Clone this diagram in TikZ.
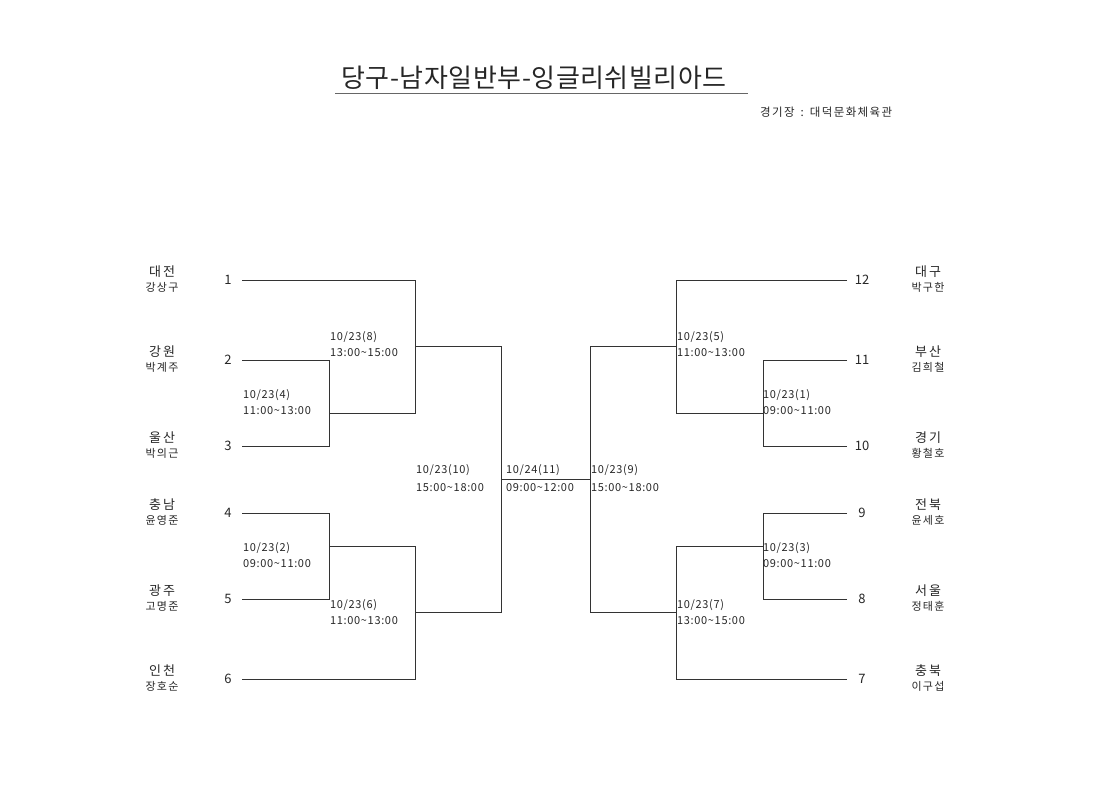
\documentclass[tikz,border=0pt]{standalone}
\usepackage{fontspec}
\setmainfont{Noto Sans CJK KR}
\begin{document}
\begin{tikzpicture}[x=1pt,y=-1pt,
  br/.style={draw=black!80,line width=0.9pt},
  lbl/.style={anchor=base west,inner sep=0pt,font=\fontsize{11}{12}\selectfont\addfontfeature{LetterSpace=6},text=black!85},
  seed/.style={inner sep=0pt,font=\fontsize{13}{14}\selectfont,text=black!85},
  team/.style={inner sep=0pt,font=\fontsize{13}{14}\selectfont\addfontfeature{LetterSpace=16},text=black!85},
  player/.style={inner sep=0pt,font=\fontsize{11}{12}\selectfont\addfontfeature{LetterSpace=11},text=black!85}]
\useasboundingbox (0,0) rectangle (1120,791);

% title
\node[inner sep=0pt,anchor=base,font=\fontsize{26}{28}\selectfont\addfontfeature{LetterSpace=2},text=black!85] (title) at (534,88) {당구-남자일반부-잉글리쉬빌리아드};
\coordinate (ulA) at (335,93);
\coordinate (ulB) at (748,93);
\draw[draw=black!60,line width=0.9pt] (ulA) -- (ulB);
\node[inner sep=0pt,anchor=base west,font=\fontsize{11.5}{12}\selectfont\addfontfeature{LetterSpace=12},text=black!85] (venue) at (760,117) {경기장\hspace{6pt}:\hspace{6pt}대덕문화체육관};

% left leaves
\foreach \n/\y/\t/\p in {1/280/대전/강상구, 2/360/강원/박계주, 3/446/울산/박의근, 4/513/충남/윤영준, 5/599/광주/고명준, 6/679/인천/장호순}{
  \node[seed] (s\n) at (228,\y) {\n};
  \node[team] (t\n) at (162,\y-8) {\t};
  \node[player] (p\n) at (162,\y+7) {\p};
  \coordinate (l\n) at (242,\y);
}
% right leaves
\foreach \n/\y/\t/\p in {12/280/대구/박구한, 11/360/부산/김희철, 10/446/경기/황철호, 9/513/전북/윤세호, 8/599/서울/정태훈, 7/679/충북/이구섭}{
  \node[seed] (s\n) at (862,\y) {\n};
  \node[team] (t\n) at (928,\y-8) {\t};
  \node[player] (p\n) at (928,\y+7) {\p};
  \coordinate (l\n) at (847,\y);
}

% left bracket coordinates
\coordinate (m4) at (329,413);
\coordinate (m2) at (329,546);
\coordinate (m8) at (415,346);
\coordinate (m6) at (415,612);
\coordinate (m10) at (501,479);
% right bracket coordinates
\coordinate (m1) at (763,413);
\coordinate (m3) at (763,546);
\coordinate (m5) at (676,346);
\coordinate (m7) at (676,612);
\coordinate (m9) at (590,479);

% left side
\draw[br] (l2) -| (m4);
\draw[br] (l3) -| (m4);
\draw[br] (l4) -| (m2);
\draw[br] (l5) -| (m2);
\draw[br] (l1) -| (m8);
\draw[br] (m4) -| (m8);
\draw[br] (l6) -| (m6);
\draw[br] (m2) -| (m6);
\draw[br] (m8) -| (m10);
\draw[br] (m6) -| (m10);
% right side
\draw[br] (l11) -| (m1);
\draw[br] (l10) -| (m1);
\draw[br] (l9) -| (m3);
\draw[br] (l8) -| (m3);
\draw[br] (l12) -| (m5);
\draw[br] (m1) -| (m5);
\draw[br] (l7) -| (m7);
\draw[br] (m3) -| (m7);
\draw[br] (m5) -| (m9);
\draw[br] (m7) -| (m9);
% final
\draw[br] (m10) -- (m9);

% match labels
\node[lbl] (a8) at (330,341) {10/23(8)};
\node[lbl] (b8) at (330,357) {13:00\textasciitilde 15:00};
\node[lbl] (a4) at (243,399) {10/23(4)};
\node[lbl] (b4) at (243,415) {11:00\textasciitilde 13:00};
\node[lbl] (a2) at (243,551) {10/23(2)};
\node[lbl] (b2) at (243,567) {09:00\textasciitilde 11:00};
\node[lbl] (a6) at (330,608) {10/23(6)};
\node[lbl] (b6) at (330,624) {11:00\textasciitilde 13:00};
\node[lbl] (a10) at (416,474) {10/23(10)};
\node[lbl] (b10) at (416,492) {15:00\textasciitilde 18:00};
\node[lbl] (a11) at (506,474) {10/24(11)};
\node[lbl] (b11) at (506,492) {09:00\textasciitilde 12:00};
\node[lbl] (a9) at (591,474) {10/23(9)};
\node[lbl] (b9) at (591,492) {15:00\textasciitilde 18:00};
\node[lbl] (a5) at (677,341) {10/23(5)};
\node[lbl] (b5) at (677,357) {11:00\textasciitilde 13:00};
\node[lbl] (a1) at (763,399) {10/23(1)};
\node[lbl] (b1) at (763,415) {09:00\textasciitilde 11:00};
\node[lbl] (a3) at (763,551) {10/23(3)};
\node[lbl] (b3) at (763,567) {09:00\textasciitilde 11:00};
\node[lbl] (a7) at (677,608) {10/23(7)};
\node[lbl] (b7) at (677,624) {13:00\textasciitilde 15:00};
\end{tikzpicture}
\end{document}
